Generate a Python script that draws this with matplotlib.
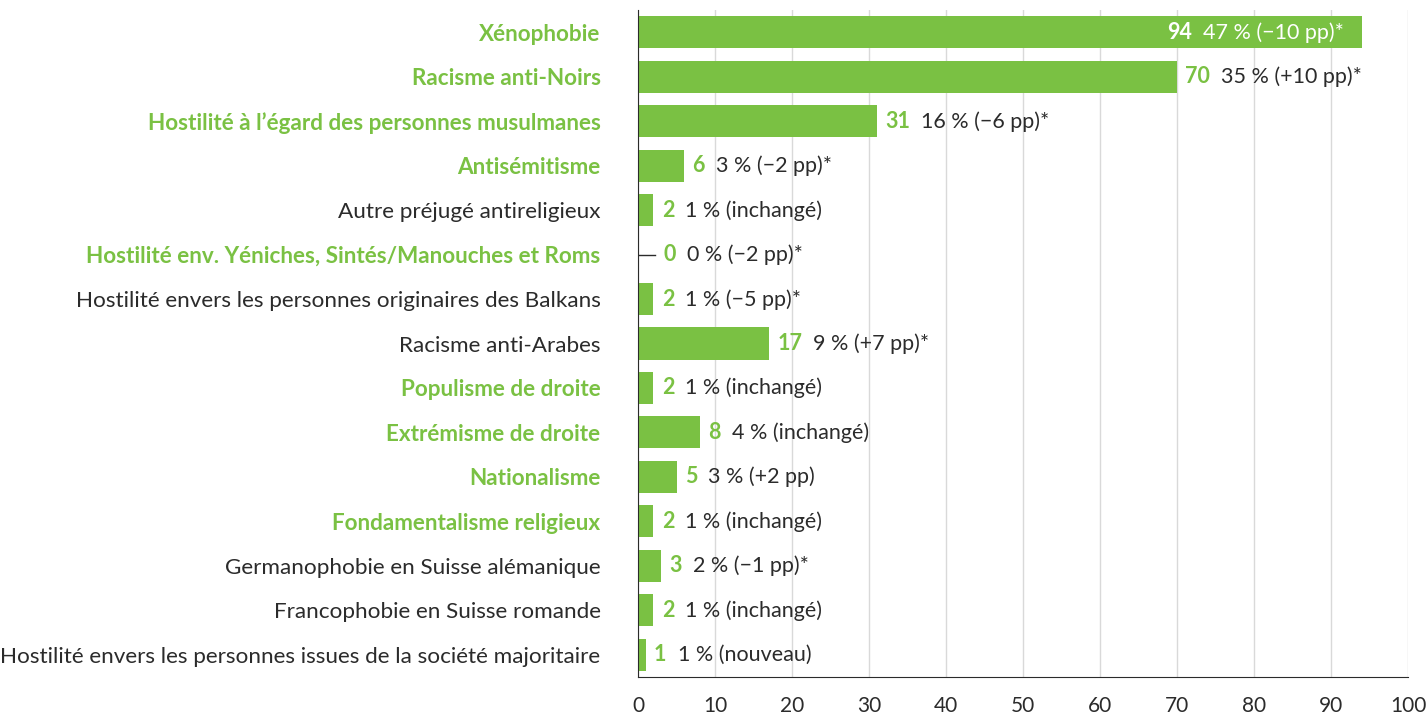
import matplotlib.pyplot as plt

plt.rcParams['font.family'] = ['Lato', 'DejaVu Sans']

categories = [
    "Xénophobie",
    "Racisme anti-Noirs",
    "Hostilité à l’égard des personnes musulmanes",
    "Antisémitisme",
    "Autre préjugé antireligieux",
    "Hostilité env. Yéniches, Sintés/Manouches et Roms",
    "Hostilité envers les personnes originaires des Balkans",
    "Racisme anti-Arabes",
    "Populisme de droite",
    "Extrémisme de droite",
    "Nationalisme",
    "Fondamentalisme religieux",
    "Germanophobie en Suisse alémanique",
    "Francophobie en Suisse romande",
    "Hostilité envers les personnes issues de la société majoritaire",
]
values = [94, 70, 31, 6, 2, 0, 2, 17, 2, 8, 5, 2, 3, 2, 1]
details = [
    "47 % (−10 pp)*", "35 % (+10 pp)*", "16 % (−6 pp)*", "3 % (−2 pp)*",
    "1 % (inchangé)", "0 % (−2 pp)*", "1 % (−5 pp)*", "9 % (+7 pp)*",
    "1 % (inchangé)", "4 % (inchangé)", "3 % (+2 pp)", "1 % (inchangé)",
    "2 % (−1 pp)*", "1 % (inchangé)", "1 % (nouveau)",
]
highlight = [True, True, True, True, False, True, False, False,
             True, True, True, True, False, False, False]

green = '#7ac143'
dark = '#2b2b2b'
fs_lab = 16.2
fs = 15.5

fig = plt.figure(figsize=(14.27, 7.16), dpi=100)
ax = fig.add_axes([638 / 1427, 1 - 677 / 716, 770 / 1427, 667 / 716])

y = list(range(len(categories)))
ax.barh(y, values, height=0.72, color=green, zorder=2)
ax.set_ylim(len(categories) - 0.5, -0.5)
ax.set_xlim(0, 100)
ax.set_xticks(range(0, 101, 10))
ax.grid(axis='x', color='#d9d9d9', linewidth=1, zorder=0)
ax.set_yticks(y)
ax.set_yticklabels(categories)
for lab, hl in zip(ax.get_yticklabels(), highlight):
    lab.set_fontsize(fs_lab)
    if hl:
        lab.set_color(green)
        lab.set_fontweight('bold')
    else:
        lab.set_color(dark)
ax.tick_params(axis='y', length=0, pad=27)
ax.tick_params(axis='x', length=0, labelsize=15, labelcolor=dark, pad=14)
for s in ['top', 'right']:
    ax.spines[s].set_visible(False)
ax.spines['left'].set_color(dark)
ax.spines['bottom'].set_color(dark)

for yi, v, d in zip(y, values, details):
    if v == 0:
        ax.plot([0, 2.2], [yi, yi], color=dark, lw=1, zorder=3)
        start = 2.2
    else:
        start = v
    if v > 85:
        t2 = ax.annotate(d, xy=(v, yi), xytext=(-13, 0), textcoords='offset points',
                         ha='right', va='center', fontsize=fs, color='white', zorder=4)
        ax.annotate(str(v), xy=(0, 0), xycoords=t2, xytext=(-8, 0),
                    textcoords='offset points', ha='right', va='bottom',
                    fontsize=fs, fontweight='bold', color='white', zorder=4)
    else:
        t1 = ax.annotate(str(v), xy=(start, yi), xytext=(6, 0), textcoords='offset points',
                         ha='left', va='center', fontsize=fs, fontweight='bold',
                         color=green, zorder=4)
        ax.annotate(d, xy=(1, 0), xycoords=t1, xytext=(8, 0),
                    textcoords='offset points', ha='left', va='bottom',
                    fontsize=fs, color=dark, zorder=4)

fig.savefig('out.png', dpi=100)
